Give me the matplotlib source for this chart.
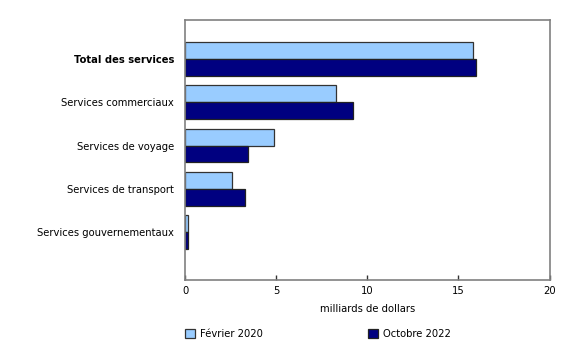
import numpy as np
import matplotlib.pyplot as plt

categories = ['Total des services', 'Services commerciaux', 'Services de voyage',
              'Services de transport', 'Services gouvernementaux']
feb_2020 = [15.8, 8.3, 4.9, 2.6, 0.16]
oct_2022 = [15.95, 9.2, 3.45, 3.3, 0.16]
series_labels = ['Février 2020', 'Octobre 2022']

light = '#99ccff'
dark = '#000080'

fig = plt.figure(figsize=(5.8, 3.45), dpi=100)
ax = fig.add_axes([185 / 580, 1 - 280 / 345, 364.5 / 580, 260 / 345])

y = np.arange(len(categories))
h = 0.39
ax.barh(y - h / 2, feb_2020, height=h, color=light, edgecolor='#333333', linewidth=0.9,
        label=series_labels[0])
ax.barh(y + h / 2, oct_2022, height=h, color=dark, edgecolor='#222222', linewidth=0.9,
        label=series_labels[1])

ax.set_xlim(0, 20)
ax.set_ylim(4 + 48 / 43.3, -39 / 43.3)
ax.set_xticks([0, 5, 10, 15, 20])
ax.set_yticks(y)
ax.set_yticklabels(categories, fontsize=7.2)
ax.get_yticklabels()[0].set_fontweight('bold')
ax.tick_params(axis='y', length=0, pad=8)
ax.tick_params(axis='x', labelsize=7.2, direction='in', length=3.5, color='#333333',
               width=1, pad=4)

for s in ax.spines.values():
    s.set_color('#808080')
    s.set_linewidth(1.2)

ax.set_xlabel('milliards de dollars', fontsize=7.2, labelpad=6)

fig.legend(loc='center left', bbox_to_anchor=(181 / 580, 1 - 334 / 345), ncol=2,
           frameon=False, fontsize=7.2, handlelength=1.0, handleheight=1.0,
           handletextpad=0.5, columnspacing=10.5, borderaxespad=0)

fig.savefig('out.png', dpi=100)
